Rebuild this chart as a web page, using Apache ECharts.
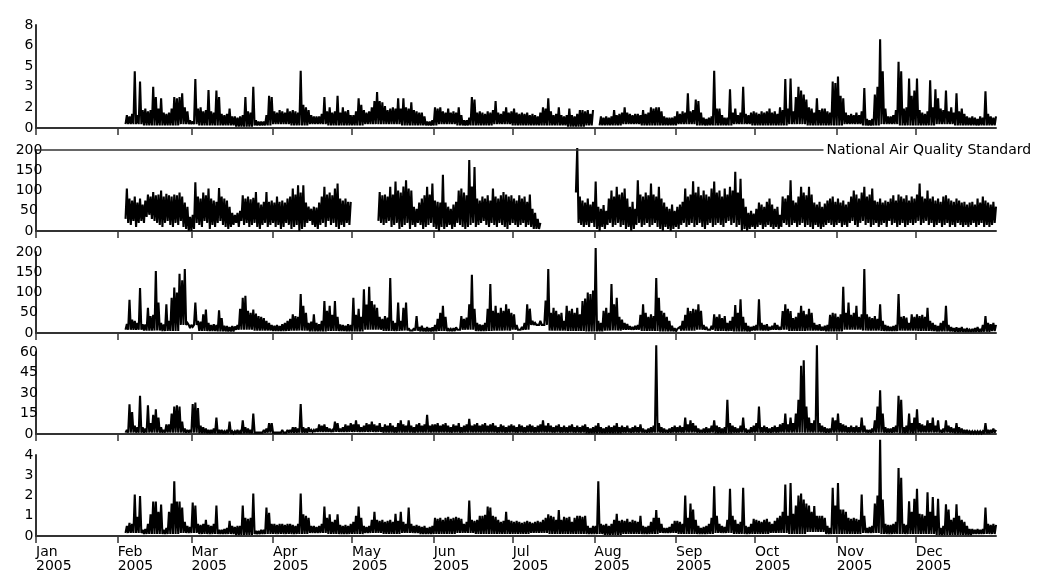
<!DOCTYPE html>
<html><head><meta charset="utf-8">
<script src="https://cdn.jsdelivr.net/npm/echarts@6/dist/echarts.min.js"></script>
<style>html,body{margin:0;padding:0;background:#fff}#c{width:1044px;height:573px}</style>
</head><body><div id="c"></div>
<script>
// ---- categories / ticks ----
const monthNames = ['Jan','Feb','Mar','Apr','May','Jun','Jul','Aug','Sep','Oct','Nov','Dec'];
const monthStartDay = [0,31,59,90,120,151,181,212,243,273,304,334];
const yearLabel = '2005';
const firstDataDay = 34;          // 4 Feb 2005 (day of year, 0-based)
const standardLevel = 200;
const standardEndDay = 299;
const standardText = 'National Air Quality Standard';

// ---- panel 1 (0-8): daily maxima Feb 4 .. Dec 31 ----
const p1Max = [
 1.0,0.9,1.1,4.4,1.0,3.6,1.4,1.5,1.3,1.4,3.2,2.4,1.5,2.3,1.2,1.1,1.2,1.5,2.4,2.3,2.4,2.7,1.6,1.3,0.6,
 0.5,3.8,1.5,1.6,1.3,1.4,2.95,1.3,1.2,2.9,2.4,1.1,1.0,1.1,1.5,0.9,0.9,0.8,0.9,1.0,2.4,1.3,1.2,3.2,0.6,0.5,0.5,0.5,1.0,2.5,2.4,
 1.3,1.2,1.4,1.3,1.2,1.5,1.3,1.4,1.3,1.2,4.45,1.8,1.6,1.4,1.0,0.9,0.9,0.9,1.1,2.4,1.3,1.6,1.2,1.3,2.5,1.2,1.6,1.3,1.4,1.0,
 1.0,1.3,2.3,1.8,1.4,1.2,1.3,1.6,2.1,2.8,2.1,2.0,1.7,1.4,1.5,1.6,1.5,2.3,1.5,2.3,1.6,1.5,2.0,1.4,1.3,1.2,1.2,0.9,0.5,0.5,0.6,
 1.6,1.5,1.6,1.3,1.2,1.5,1.2,1.3,1.2,1.6,1.0,0.6,0.6,0.8,2.4,2.2,1.2,1.3,1.2,1.1,1.3,1.2,1.4,2.1,1.2,1.1,1.3,1.6,1.2,1.3,
 1.5,1.2,1.1,1.2,1.1,1.2,1.0,1.1,1.0,0.9,1.2,1.6,1.5,2.3,1.3,1.0,1.1,1.6,1.0,0.9,1.0,1.5,1.0,0.9,1.1,1.4,1.4,1.3,1.4,1.1,1.4,
 null,null,0.9,0.8,0.9,0.8,0.9,1.4,1.0,1.1,1.2,1.6,1.2,1.1,1.0,1.1,1.1,1.0,1.4,1.1,1.2,1.6,1.5,1.6,1.6,1.3,0.9,0.8,0.8,0.8,0.9,
 1.3,1.1,1.3,1.2,2.7,1.3,1.4,2.2,2.1,1.2,0.8,0.7,0.8,0.9,4.45,1.5,1.5,1.0,0.8,0.8,3.0,1.2,1.5,1.0,1.2,3.2,1.1,1.0,1.2,1.3,
 1.2,1.1,1.3,1.2,1.3,1.5,1.2,1.3,1.1,1.6,1.4,3.8,1.5,3.85,1.3,2.4,3.2,2.9,2.6,2.2,1.6,1.5,1.2,2.3,1.4,1.5,1.5,1.3,1.2,3.6,3.5,
 4.0,2.5,2.3,1.2,1.0,1.1,1.0,1.2,1.0,1.3,3.1,0.7,0.6,0.7,2.6,3.2,6.9,4.4,1.5,0.9,0.9,1.0,1.4,5.15,4.4,1.5,1.6,3.85,2.5,2.9,
 3.85,1.4,1.2,1.1,1.3,3.7,1.6,3.0,2.3,1.5,1.4,2.9,1.3,1.6,1.2,2.7,1.3,1.5,1.1,0.9,0.8,0.9,0.8,0.7,0.9,0.8,2.85,1.1,0.9,0.8,0.9
];
const p1WeekMin = [0.3,0.2,0.2,0.3,0.2,0.2,0.1,0.2,0.3,0.2,0.3,0.2,0.2,0.3,0.3,0.2,0.2,0.3,0.2,0.2,0.3,0.2,0.2,0.2,
 0.1,0.2,0.2,0.3,0.2,0.2,0.3,0.2,0.2,0.3,0.2,0.2,0.3,0.2,0.2,0.3,0.2,0.3,0.2,0.2,0.3,0.2,0.2,0.2];

// ---- panel 2 (0-200): daily maxima / minima ----
const p2Max = [
 105,80,75,85,70,80,65,75,90,85,96,88,90,100,85,92,88,85,90,88,95,85,70,60,35,
 40,120,85,80,95,88,105,80,75,72,106,85,80,75,60,45,40,45,50,88,80,85,78,82,96,70,65,72,96,72,75,
 70,85,72,75,70,80,85,105,90,113,95,113,70,60,55,60,58,70,85,109,90,95,88,105,117,80,75,80,72,72,
 null,null,null,null,null,null,null,null,null,null,96,88,90,85,109,90,122,100,95,110,125,105,100,60,55,70,80,88,109,90,117,
 75,72,70,139,70,60,55,65,72,100,105,95,88,175,110,158,80,75,85,80,88,75,105,85,80,88,96,90,85,88,
 80,75,88,80,85,72,90,55,45,30,20,null,null,null,null,null,null,null,null,null,null,null,null,null,205,85,75,70,80,65,72,
 122,60,55,64,50,80,100,85,109,90,95,105,80,60,72,55,125,90,85,95,88,117,90,85,109,80,70,60,55,65,50,
 60,65,72,105,85,90,123,95,109,88,100,90,85,105,122,95,100,85,105,90,109,100,146,95,129,80,60,45,50,43,
 55,70,65,60,72,80,65,55,60,40,85,80,88,125,75,70,85,109,95,88,109,90,70,65,72,60,68,75,80,85,72,
 80,70,75,65,72,85,100,90,80,95,109,85,90,105,75,72,80,70,75,72,80,88,75,90,85,80,88,75,85,80,
 90,117,85,80,100,80,85,75,80,72,85,88,80,75,72,80,75,70,72,65,70,72,65,80,70,85,75,70,65,72,60
];
const p2Min = [
 30,20,15,25,10,20,25,20,35,40,30,25,20,15,10,20,25,15,10,20,15,25,10,5,0,
 0,5,20,15,10,25,20,5,15,10,20,25,15,10,5,10,15,20,10,25,15,20,10,15,20,10,5,15,20,10,15,
 20,10,15,5,10,20,15,5,10,15,0,5,10,20,25,15,10,5,15,20,10,25,15,20,10,5,15,10,20,15,
 0,0,0,0,0,0,0,0,0,0,25,20,15,20,25,10,15,20,5,10,15,20,5,15,10,20,15,5,10,15,20,
 10,5,0,10,5,10,15,5,10,20,15,10,5,10,15,20,10,15,20,25,15,10,20,15,10,20,15,10,5,15,
 20,15,10,15,20,10,15,10,5,5,5,0,0,0,0,0,0,0,0,0,0,0,0,0,95,20,15,10,15,10,20,
 10,5,0,10,5,15,20,10,15,20,10,15,5,10,0,5,15,20,10,15,20,10,15,20,10,5,0,10,5,0,5,
 10,5,15,20,10,15,20,10,15,20,10,5,15,20,10,15,20,15,10,20,25,15,20,10,15,0,5,0,5,10,
 5,10,15,5,10,15,10,5,10,5,10,20,15,10,15,20,10,15,20,10,15,10,5,15,10,5,10,15,20,15,10,
 15,20,10,15,10,20,25,15,10,20,25,15,20,10,15,20,10,15,20,10,25,15,20,10,15,20,10,15,20,15,
 20,25,15,20,25,15,20,10,15,20,10,15,20,10,15,10,20,15,10,15,10,15,20,10,15,20,10,15,10,15,20
];

// ---- panel 3 (0-200) ----
const p3Max = [
 22,82,33,30,25,111,22,21,62,42,45,153,75,25,21,71,30,87,112,100,146,130,158,25,12,
 15,75,30,28,46,58,25,20,22,20,56,37,18,17,15,17,16,20,60,87,92,55,50,58,48,42,40,37,30,25,20,
 18,20,17,22,25,30,35,46,42,40,96,67,50,25,28,46,25,22,30,79,55,67,45,79,40,21,20,18,22,20,
 87,45,60,40,108,70,114,79,70,62,40,35,42,38,136,30,25,75,30,62,75,12,10,12,42,15,18,12,15,12,14,
 20,35,50,67,40,12,10,12,14,12,42,35,38,71,144,60,25,21,20,25,60,121,55,67,50,62,55,71,60,50,
 46,20,12,15,25,71,60,30,25,22,30,20,80,158,50,62,55,46,50,30,67,55,60,50,62,46,79,85,100,96,105,
 210,30,25,55,62,50,121,71,87,40,33,25,22,17,15,18,20,45,71,50,40,46,42,136,87,55,50,40,30,18,12,
 10,15,30,45,62,54,60,58,71,55,20,15,12,18,46,40,46,37,42,25,30,40,69,50,83,40,25,17,15,17,
 20,83,25,20,22,15,18,25,20,15,54,71,60,54,37,40,50,67,55,46,60,50,25,20,22,15,18,20,45,50,48,
 40,46,114,50,75,45,50,67,40,46,158,46,40,37,42,35,71,30,20,17,15,17,20,96,40,42,38,25,46,40,
 46,42,45,40,62,30,25,20,17,25,30,67,20,15,12,14,12,15,10,12,8,10,12,15,10,20,42,25,22,25,20
];
const p3WeekMin = [8,6,5,20,5,4,8,6,5,6,4,5,4,8,5,6,4,5,8,5,6,8,20,6,5,4,6,8,5,4,6,8,5,4,6,8,5,6,4,8,6,5,6,5,4,3,3,5];

// ---- panel 4 (0-60) ----
const p4Max = [
 3,21.7,16,6,5,28,5,4,21,8,14,18,12,5,3,7,7,15,20,21,20,9,4,3,3,
 22,23,19,6,5,4,3,3,4,12,3,3,2,3,9,2,2,3,2,10,5,4,3,15,2,2,2,3,4,8,8,
 2,2,2,3,2,3,3,5,5,4,22,5,4,5,3,3,4,7,6,7,5,4,3,9,8,4,5,7,6,8,
 7,10,7,5,6,8,7,9,7,6,8,5,7,6,8,6,5,8,10,7,6,10,6,5,7,8,6,7,14,6,7,
 7,8,6,7,8,6,5,7,6,8,5,6,7,11,6,7,8,6,7,8,6,7,8,6,5,7,6,5,6,7,
 6,5,7,6,5,6,7,6,5,6,7,10,6,8,6,5,6,7,5,6,5,6,7,5,6,5,6,7,5,4,5,
 6,8,5,4,5,6,5,6,8,5,6,5,6,4,5,6,5,7,4,3,4,5,6,65,8,5,4,3,4,5,6,
 5,6,5,12,7,10,8,6,4,3,4,5,4,6,10,6,5,4,5,25,8,6,5,4,6,12,4,3,5,6,
 8,20,5,6,5,4,5,6,5,7,8,15,7,12,8,15,25,50,54,20,12,8,10,65,8,6,5,4,4,12,10,
 15,8,7,6,5,6,5,6,5,12,6,3,3,4,10,20,32,15,5,4,4,5,6,28,25,5,6,15,8,12,
 18,8,7,6,10,8,12,6,10,3,4,10,6,5,4,8,5,4,3,3,2,2,2,2,2,2,8,3,3,4,3
];
const p4WeekMin = [1,1,1,1,0.5,0.5,0.5,1,1,1,1.5,1.5,1.5,1.5,1,1,1,1,1,1,1,1,1,1,1,0.5,0.5,1,1,1,1,1,0.5,1,1,1,1,1,1,1,1,1,0.5,1,1,0.5,0.5,1];

// ---- panel 5 (0-4) ----
const p5Max = [
 0.5,0.65,0.6,2.05,0.95,1.97,0.3,0.35,0.6,1.07,1.7,1.7,1.2,1.55,0.3,0.4,1.2,1.6,2.7,1.7,1.7,1.4,0.7,0.5,0.45,
 1.65,1.5,0.6,0.55,0.6,0.8,0.55,0.5,0.6,1.5,0.3,0.3,0.35,0.4,0.75,0.5,0.45,0.5,0.5,1.5,0.9,0.85,0.9,2.1,0.25,0.25,0.3,0.3,1.4,1.15,0.6,
 0.6,0.55,0.6,0.6,0.55,0.6,0.6,0.55,0.5,0.6,2.1,1.07,1.0,0.9,0.5,0.5,0.45,0.5,0.6,1.45,0.9,1.07,0.7,0.8,1.07,0.55,0.5,0.55,0.5,0.6,
 0.7,1.0,1.45,0.9,0.5,0.45,0.5,0.8,1.2,0.8,0.75,0.8,0.7,0.75,0.8,0.7,1.1,0.75,1.2,0.7,0.6,1.4,0.6,0.5,0.55,0.5,0.45,0.5,0.4,0.45,0.5,
 0.9,0.85,0.9,0.8,0.9,0.95,0.85,0.9,0.95,0.9,0.85,0.6,0.7,1.75,0.8,0.75,0.8,1.0,1.0,1.05,1.45,1.4,1.0,0.95,0.8,0.7,0.75,1.2,0.8,0.75,
 0.7,0.75,0.7,0.65,0.7,0.75,0.7,0.65,0.7,0.75,0.7,0.8,0.9,1.07,1.0,0.95,0.8,1.28,0.8,0.95,0.9,0.95,0.7,0.9,1.0,1.0,0.95,1.0,0.5,0.4,0.5,
 0.5,2.7,0.6,0.55,0.6,0.5,0.6,0.8,1.1,0.75,0.8,0.75,0.85,0.7,0.8,0.75,0.7,1.0,0.5,0.45,0.5,0.7,0.9,1.28,0.9,0.6,0.4,0.4,0.45,0.6,0.75,
 0.75,0.7,0.6,2.0,0.9,1.6,1.3,0.8,0.5,0.4,0.45,0.5,0.6,0.9,2.46,1.0,0.6,0.5,0.45,0.8,2.33,1.0,0.8,0.6,0.7,2.38,0.5,0.45,0.6,0.85,
 0.8,0.75,0.7,0.8,0.85,0.7,0.6,0.75,0.9,1.0,1.2,2.54,1.0,2.62,1.1,1.5,2.0,2.1,1.8,1.6,1.5,1.2,1.48,1.0,1.0,1.0,0.9,0.5,0.4,2.38,1.5,
 2.62,1.3,1.3,1.2,0.9,0.85,0.9,0.85,0.8,2.05,1.0,0.4,0.45,0.5,1.6,2.0,4.75,1.8,0.6,0.55,0.55,0.6,0.7,3.36,2.87,0.6,0.55,1.72,1.2,1.84,
 2.33,1.1,1.07,1.0,2.16,1.2,1.93,1.0,1.84,0.4,0.5,1.56,1.3,0.8,0.9,1.56,1.0,0.8,0.7,0.5,0.35,0.35,0.3,0.35,0.3,0.35,1.4,0.6,0.55,0.6,0.55
];
const p5WeekMin = [0.15,0.1,0.1,0.15,0.1,0.1,0.05,0.1,0.1,0.1,0.15,0.1,0.1,0.15,0.1,0.15,0.1,0.1,0.15,0.1,0.1,0.1,0.15,0.1,
 0.1,0.1,0.05,0.1,0.1,0.15,0.1,0.1,0.15,0.1,0.1,0.15,0.1,0.2,0.1,0.1,0.15,0.1,0.1,0.1,0.05,0.05,0.1,0.1];

// ---- y scales per panel ----
const yMin = [0,0,0,0,0];
const yMax = [8,200,200,60,4];
const yStep = [1.6,50,50,15,1];

const nDays = 365 - firstDataDay;
function check(name, a, n){ if (a.length !== n) throw new Error(name + ' has ' + a.length + ' values, expected ' + n); }
check('p1Max',p1Max,nDays); check('p2Max',p2Max,nDays); check('p2Min',p2Min,nDays);
check('p3Max',p3Max,nDays); check('p4Max',p4Max,nDays); check('p5Max',p5Max,nDays);
const nWeeks = Math.ceil(nDays/7);
check('p1WeekMin',p1WeekMin,nWeeks); check('p3WeekMin',p3WeekMin,nWeeks);
check('p4WeekMin',p4WeekMin,nWeeks); check('p5WeekMin',p5WeekMin,nWeeks);

function build(maxArr, minArr, weekly){
  const pts = [];
  for (let k = 0; k < maxArr.length; k++){
    const day = firstDataDay + k;
    const hi = maxArr[k];
    if (hi === null){ pts.push([day, null]); continue; }
    const lo = weekly ? minArr[Math.floor(k/7)] : minArr[k];
    pts.push([day, lo], [day + 0.5, hi]);
  }
  return pts;
}
const seriesData = [
  build(p1Max, p1WeekMin, true),
  build(p2Max, p2Min, false),
  build(p3Max, p3WeekMin, true),
  build(p4Max, p4WeekMin, true),
  build(p5Max, p5WeekMin, true)
];

// ---- layout ----
const panelTop = [25,150,252,352,455];
const panelHeight = [103,81,81,82,82];
const axisColor = '#333';
const font = 'DejaVu Sans';

const grid = [], xAxis = [], yAxis = [], series = [];
for (let i = 0; i < 5; i++){
  grid.push({left:36, width:960, top:panelTop[i], height:panelHeight[i]});
  const last = i === 4;
  xAxis.push({
    type:'value', gridIndex:i, min:0, max:364.5,
    axisLine:{show:true, onZero:false, lineStyle:{color:axisColor, width:2}},
    axisTick:{show:true, customValues:monthStartDay, length:7, lineStyle:{color:axisColor, width:1.5}},
    axisLabel:{show:last, customValues:monthStartDay, align:'left', verticalAlign:'top', margin:9,
      lineHeight:14, fontSize:14, fontFamily:font, color:'#000',
      formatter:v => monthNames[monthStartDay.indexOf(v)] + '\n' + yearLabel},
    splitLine:{show:false}
  });
  yAxis.push({
    type:'value', gridIndex:i, min:yMin[i], max:yMax[i], interval:yStep[i],
    axisLine:{show:true, lineStyle:{color:axisColor, width:2}},
    axisTick:{show:false},
    axisLabel:{fontSize:14, fontFamily:font, color:'#000', align:'center', margin:7, padding:[0,0,8,0],
      formatter:v => String(Math.round(v))},
    splitLine:{show:false}
  });
  const s = {
    type:'line', xAxisIndex:i, yAxisIndex:i, data:seriesData[i], showSymbol:false, symbol:'none',
    connectNulls:false, clip:false, animation:false, silent:true,
    lineStyle:{color:'#000', width:2.1, join:'miter', miterLimit:2}
  };
  if (i === 1){
    s.markLine = {
      silent:true, symbol:'none', animation:false,
      lineStyle:{color:axisColor, width:1.5, type:'solid'},
      label:{show:true, position:'end', formatter:standardText, color:'#000', fontSize:14, fontFamily:font, distance:3},
      data:[[{coord:[0, standardLevel]}, {coord:[standardEndDay, standardLevel]}]]
    };
  }
  series.push(s);
}

const chart = echarts.init(document.getElementById('c'), null, {renderer:'canvas'});
chart.setOption({animation:false, backgroundColor:'#fff', grid, xAxis, yAxis, series});
</script>
</body></html>
